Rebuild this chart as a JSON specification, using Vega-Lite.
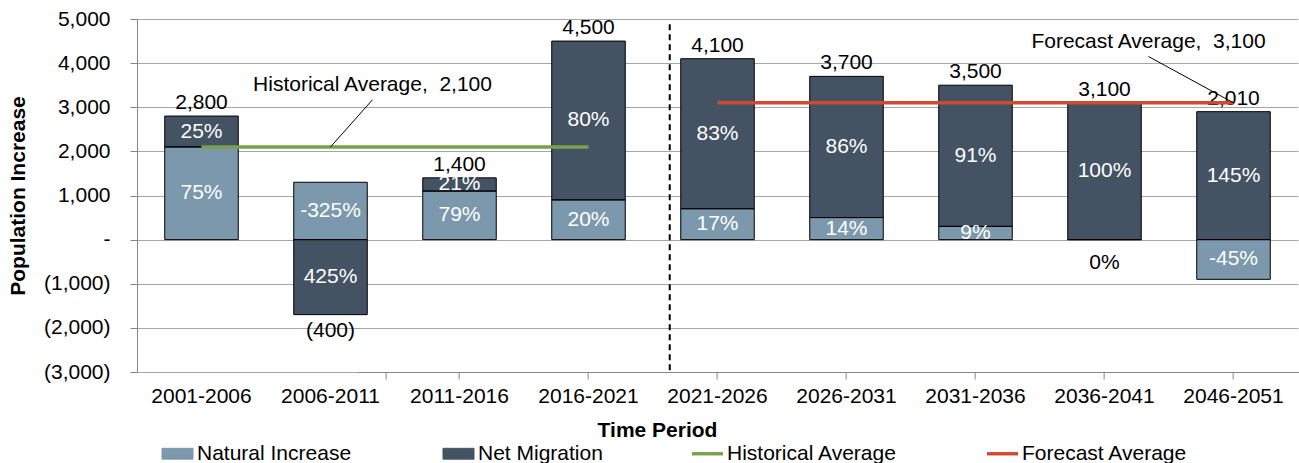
{
  "$schema": "https://vega.github.io/schema/vega-lite/v6.json",
  "width": 1161,
  "height": 353,
  "autosize": {"type": "none"},
  "padding": {"left": 137, "top": 19, "right": 1, "bottom": 91},
  "config": {
    "font": "Liberation Sans",
    "view": {"stroke": null},
    "text": {"font": "Liberation Sans", "fontSize": 21}
  },
  "datasets": {
    "bars": [
      {"period": "2001-2006", "series": "Natural Increase", "value": 2100, "pct": "75%"},
      {"period": "2001-2006", "series": "Net Migration", "value": 700, "pct": "25%"},
      {"period": "2006-2011", "series": "Natural Increase", "value": 1300, "pct": "-325%"},
      {"period": "2006-2011", "series": "Net Migration", "value": -1700, "pct": "425%"},
      {"period": "2011-2016", "series": "Natural Increase", "value": 1100, "pct": "79%"},
      {"period": "2011-2016", "series": "Net Migration", "value": 300, "pct": "21%"},
      {"period": "2016-2021", "series": "Natural Increase", "value": 900, "pct": "20%"},
      {"period": "2016-2021", "series": "Net Migration", "value": 3600, "pct": "80%"},
      {"period": "2021-2026", "series": "Natural Increase", "value": 700, "pct": "17%"},
      {"period": "2021-2026", "series": "Net Migration", "value": 3400, "pct": "83%"},
      {"period": "2026-2031", "series": "Natural Increase", "value": 500, "pct": "14%"},
      {"period": "2026-2031", "series": "Net Migration", "value": 3200, "pct": "86%"},
      {"period": "2031-2036", "series": "Natural Increase", "value": 300, "pct": "9%"},
      {"period": "2031-2036", "series": "Net Migration", "value": 3200, "pct": "91%"},
      {"period": "2036-2041", "series": "Natural Increase", "value": 0, "pct": "0%"},
      {"period": "2036-2041", "series": "Net Migration", "value": 3100, "pct": "100%"},
      {"period": "2046-2051", "series": "Natural Increase", "value": -900, "pct": "-45%"},
      {"period": "2046-2051", "series": "Net Migration", "value": 2900, "pct": "145%"}
    ],
    "totals": [
      {"period": "2001-2006", "label": "2,800", "side": "above"},
      {"period": "2006-2011", "label": "(400)", "side": "below"},
      {"period": "2011-2016", "label": "1,400", "side": "above"},
      {"period": "2016-2021", "label": "4,500", "side": "above"},
      {"period": "2021-2026", "label": "4,100", "side": "above"},
      {"period": "2026-2031", "label": "3,700", "side": "above"},
      {"period": "2031-2036", "label": "3,500", "side": "above"},
      {"period": "2036-2041", "label": "3,100", "side": "above"},
      {"period": "2046-2051", "label": "2,010", "side": "above"}
    ],
    "averages": [
      {"series": "Historical Average", "start": "2001-2006", "end": "2016-2021", "value": 2100},
      {"series": "Forecast Average", "start": "2021-2026", "end": "2046-2051", "value": 3100}
    ]
  },
  "resolve": {"axis": {"x": "independent"}},
  "layer": [
    {
      "data": {"name": "bars"},
      "transform": [
        {"stack": "value", "groupby": ["period"], "sort": [{"field": "series", "order": "ascending"}], "as": ["v0", "v1"]}
      ],
      "mark": {"type": "bar"},
      "encoding": {
        "x": {
          "field": "period", "type": "nominal", "sort": null,
          "scale": {
            "domain": ["2001-2006", "2006-2011", "2011-2016", "2016-2021", "2021-2026", "2026-2031", "2031-2036", "2036-2041", "2046-2051"],
            "paddingInner": 0.43, "paddingOuter": 0.215
          },
          "axis": {
            "orient": "bottom", "title": "Time Period", "titleFontSize": 21, "titleFontWeight": "bold", "titleColor": "black",
            "titleX": 520, "titleY": 58, "titleBaseline": "middle", "titleAlign": "center",
            "labelFontSize": 21, "labelColor": "black", "labelPadding": 13, "labelAngle": 0,
            "domain": false, "ticks": false, "tickSize": 0, "grid": false
          }
        },
        "y": {
          "field": "v0", "type": "quantitative",
          "scale": {"domain": [-3000, 5000], "nice": false, "zero": false},
          "axis": {
            "title": "Population Increase", "titleFontSize": 21, "titleFontWeight": "bold", "titleColor": "black",
            "titleX": -119, "titleY": 176.5, "titleBaseline": "middle", "titleAlign": "center", "titleAngle": -90,
            "values": [-3000, -2000, -1000, 0, 1000, 2000, 3000, 4000, 5000],
            "labelExpr": "datum.value == 0 ? '-' : datum.value < 0 ? '(' + format(-datum.value, ',') + ')' : format(datum.value, ',')",
            "labelFontSize": 21, "labelColor": "black", "labelPadding": 20,
            "tickSize": 7, "tickColor": "#868686", "domainColor": "#868686",
            "grid": true, "gridColor": "#A6A6A6", "gridWidth": 1
          }
        },
        "y2": {"field": "v1"},
        "color": {
          "field": "series", "type": "nominal",
          "scale": {
            "domain": ["Natural Increase", "Net Migration", "Historical Average", "Forecast Average"],
            "range": ["#7B98AD", "#435363", "#79A04C", "#D04A32"]
          },
          "legend": {
            "orient": "none", "legendX": 30, "legendY": 424, "direction": "horizontal", "title": null,
            "values": ["Natural Increase", "Net Migration", "Historical Average", "Forecast Average"],
            "labelFontSize": 21, "labelColor": "black", "labelFont": "Liberation Sans", "labelLimit": 400,
            "symbolSize": 961, "labelOffset": 9, "columnPadding": 89, "padding": 0,
            "symbolType": {"expr": "(datum.value == 'Historical Average' || datum.value == 'Forecast Average') ? 'M-1,-0.11H1V0.11H-1Z' : 'M-1,-0.35H1V0.35H-1Z'"},
            "symbolStrokeColor": {"expr": "(datum.value == 'Historical Average' || datum.value == 'Forecast Average') ? scale('color', datum.value) : 'black'"},
            "symbolStrokeWidth": {"expr": "(datum.value == 'Historical Average' || datum.value == 'Forecast Average') ? 0 : 1"}
          }
        }
      }
    },
    {
      "data": {"name": "bars"},
      "transform": [
        {"stack": "value", "groupby": ["period"], "sort": [{"field": "series", "order": "ascending"}], "as": ["v0", "v1"]}
      ],
      "mark": {"type": "bar", "fillOpacity": 0, "stroke": "black", "strokeWidth": 1},
      "encoding": {
        "x": {"field": "period", "type": "nominal", "sort": null, "axis": null},
        "y": {"field": "v0", "type": "quantitative"},
        "y2": {"field": "v1"}
      }
    },
    {
      "data": {"name": "bars"},
      "transform": [
        {"stack": "value", "groupby": ["period"], "sort": [{"field": "series", "order": "ascending"}], "as": ["v0", "v1"]},
        {"calculate": "(datum.v0 + datum.v1) / 2", "as": "mid"},
        {"filter": "datum.value != 0"}
      ],
      "mark": {"type": "text", "color": "white", "fontSize": 21},
      "encoding": {
        "x": {
          "field": "period", "type": "nominal", "sort": null,
          "axis": {
            "orient": "bottom", "position": {"expr": "scale('y', 0)"}, "labels": false, "title": null,
            "domain": true, "domainColor": "#868686", "ticks": true, "tickBand": "extent",
            "tickColor": "#868686", "tickSize": 7, "grid": false, "zindex": 1
          }
        },
        "y": {"field": "mid", "type": "quantitative"},
        "text": {"field": "pct"}
      }
    },
    {
      "data": {"name": "bars"},
      "transform": [{"filter": "datum.value == 0"}],
      "mark": {"type": "text", "color": "black", "fontSize": 21, "dy": 23},
      "encoding": {
        "x": {"field": "period", "type": "nominal", "sort": null, "axis": null},
        "y": {"field": "value", "type": "quantitative"},
        "text": {"field": "pct"}
      }
    },
    {
      "data": {"name": "bars"},
      "transform": [
        {"calculate": "max(datum.value, 0)", "as": "pv"},
        {"calculate": "min(datum.value, 0)", "as": "nv"},
        {"aggregate": [{"op": "sum", "field": "pv", "as": "top"}, {"op": "sum", "field": "nv", "as": "bottom"}], "groupby": ["period"]},
        {"lookup": "period", "from": {"data": {"name": "totals"}, "key": "period", "fields": ["label", "side"]}},
        {"filter": "datum.side == 'above'"}
      ],
      "mark": {"type": "text", "color": "black", "fontSize": 21, "dy": -13},
      "encoding": {
        "x": {"field": "period", "type": "nominal", "sort": null, "axis": null},
        "y": {"field": "top", "type": "quantitative"},
        "text": {"field": "label"}
      }
    },
    {
      "data": {"name": "bars"},
      "transform": [
        {"calculate": "max(datum.value, 0)", "as": "pv"},
        {"calculate": "min(datum.value, 0)", "as": "nv"},
        {"aggregate": [{"op": "sum", "field": "pv", "as": "top"}, {"op": "sum", "field": "nv", "as": "bottom"}], "groupby": ["period"]},
        {"lookup": "period", "from": {"data": {"name": "totals"}, "key": "period", "fields": ["label", "side"]}},
        {"filter": "datum.side == 'below'"}
      ],
      "mark": {"type": "text", "color": "black", "fontSize": 21, "dy": 16},
      "encoding": {
        "x": {"field": "period", "type": "nominal", "sort": null, "axis": null},
        "y": {"field": "bottom", "type": "quantitative"},
        "text": {"field": "label"}
      }
    },
    {
      "data": {"name": "averages"},
      "mark": {"type": "rule", "strokeWidth": 3.5},
      "encoding": {
        "x": {"field": "start", "type": "nominal", "axis": null},
        "x2": {"field": "end"},
        "y": {"field": "value", "type": "quantitative"},
        "color": {"field": "series", "type": "nominal", "legend": null}
      }
    },
    {
      "data": {"values": [{}]},
      "mark": {"type": "rule", "color": "black", "strokeWidth": 2, "strokeDash": [6, 4], "xOffset": -11, "x2Offset": -11},
      "encoding": {
        "x": {"datum": "2021-2026", "type": "nominal", "bandPosition": 0, "axis": null},
        "y": {"datum": 4880, "type": "quantitative"},
        "y2": {"datum": -3000}
      }
    },
    {
      "data": {"values": [{}]},
      "mark": {"type": "rule", "color": "black", "strokeWidth": 1, "x2Offset": 42},
      "encoding": {
        "x": {"datum": "2006-2011", "type": "nominal", "axis": null},
        "x2": {"datum": "2006-2011"},
        "y": {"datum": 2100, "type": "quantitative"},
        "y2": {"datum": 3170}
      }
    },
    {
      "data": {"values": [{}]},
      "mark": {"type": "text", "color": "black", "fontSize": 21, "dx": 42},
      "encoding": {
        "x": {"datum": "2006-2011", "type": "nominal", "axis": null},
        "y": {"datum": 3500, "type": "quantitative"},
        "text": {"value": "Historical Average,\u00a0 2,100"}
      }
    },
    {
      "data": {"values": [{}]},
      "mark": {"type": "rule", "color": "black", "strokeWidth": 1, "xOffset": -85},
      "encoding": {
        "x": {"datum": "2046-2051", "type": "nominal", "axis": null},
        "x2": {"datum": "2046-2051"},
        "y": {"datum": 4150, "type": "quantitative"},
        "y2": {"datum": 3100}
      }
    },
    {
      "data": {"values": [{}]},
      "mark": {"type": "text", "color": "black", "fontSize": 21, "dx": -85},
      "encoding": {
        "x": {"datum": "2046-2051", "type": "nominal", "axis": null},
        "y": {"datum": 4470, "type": "quantitative"},
        "text": {"value": "Forecast Average,\u00a0 3,100"}
      }
    }
  ]
}
